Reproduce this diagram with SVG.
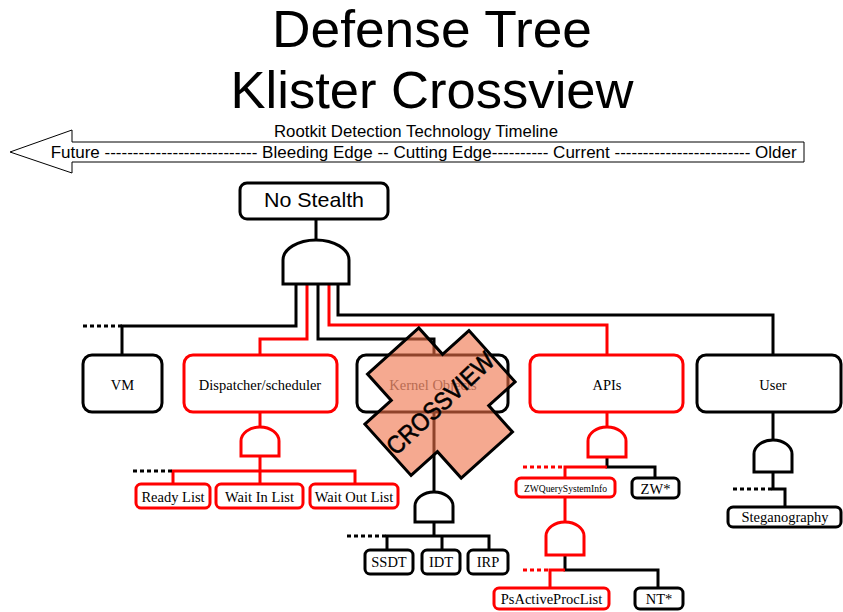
<svg xmlns="http://www.w3.org/2000/svg" width="843" height="612" viewBox="0 0 843 612">
<style>
.title{font-family:"Liberation Sans",Arial,sans-serif;font-size:52px;fill:#000;text-anchor:middle}
.tl{font-family:"Liberation Sans",Arial,sans-serif;font-size:17px;fill:#000}
.box{fill:#fff;stroke:#000;stroke-width:3}
.rbox{fill:#fff;stroke:#f00;stroke-width:3}
.lbl{font-family:"Liberation Serif","Times New Roman",serif;font-size:14.5px;fill:#000;text-anchor:middle}
.gate{fill:#fff;stroke:#000;stroke-width:3}
.rgate{fill:#fff;stroke:#f00;stroke-width:3}
.bl{fill:none;stroke:#000;stroke-width:3}
.rl{fill:none;stroke:#f00;stroke-width:3}
.bd{fill:none;stroke:#000;stroke-width:3;stroke-dasharray:4 3}
.rd{fill:none;stroke:#f00;stroke-width:3;stroke-dasharray:4 3}
</style>
<rect width="843" height="612" fill="#fff"/>
<g id="title">
<text class="title" x="432" y="47" textLength="320" lengthAdjust="spacingAndGlyphs">Defense Tree</text>
<text class="title" x="432" y="108" textLength="403" lengthAdjust="spacingAndGlyphs">Klister Crossview</text>
</g>
<g id="timeline">
<polygon points="10,152 72,130 72,142 804,142 804,162 72,162 72,173" fill="#fff" stroke="#000" stroke-width="1"/>
<text class="tl" x="416" y="136.5" text-anchor="middle" textLength="284" lengthAdjust="spacingAndGlyphs">Rootkit Detection Technology Timeline</text>
<text class="tl" x="50.7" y="157.5" textLength="746" lengthAdjust="spacingAndGlyphs">Future --------------------------- Bleeding Edge -- Cutting Edge---------- Current ------------------------ Older</text>
</g>
<g id="connectors">
<path class="bl" d="M316,219 V240"/>
<path class="bl" d="M296,284 V326 H122 V355"/>
<path class="bd" d="M122,326 H83"/>
<path class="rl" d="M307,284 V339 H260 V355"/>
<path class="bl" d="M318,284 V339 H434 V355"/>
<path class="rl" d="M329,284 V325 H607 V355"/>
<path class="bl" d="M338,284 V315 H773 V355"/>
<path class="rl" d="M260,412 V427"/>
<path class="rl" d="M260,456 V484 M173,484 V471 H355 V484"/>
<path class="bd" d="M133,471 H173"/>
<path class="bl" d="M434,412 V492"/>
<path class="bl" d="M434,522 V536 M387,550 V536 H489 V550 M442,536 V550"/>
<path class="bd" d="M347,536 H387"/>
<path class="rl" d="M607,413 V427"/>
<path class="bl" d="M607,457 V467 H655 V478"/>
<path class="rl" d="M607,467 H565 V478"/>
<path class="rd" d="M523,467 H565"/>
<path class="rl" d="M565,497 V522"/>
<path class="bl" d="M565,555 V570 H658 V588"/>
<path class="rl" d="M565,570 H550 V588"/>
<path class="rd" d="M523,570 H550"/>
<path class="bl" d="M773,412 V440"/>
<path class="bl" d="M773,472 V489 H785 V507"/>
<path class="bd" d="M733,489 H773"/>
</g>
<g id="gates">
<path id="gate-root" class="gate" d="M283,284 V260 A33,20 0 0 1 349,260 V284 Z"/>
<path id="gate-disp" class="rgate" d="M241,456 V441 A19,14 0 0 1 279,441 V456 Z"/>
<path id="gate-kernel" class="gate" d="M415,522 V506 A19,14 0 0 1 453,506 V522 Z"/>
<path id="gate-apis" class="rgate" d="M588,457 V441 A19,14 0 0 1 626,441 V457 Z"/>
<path id="gate-zwq" class="rgate" d="M546,555 V536 A19,14 0 0 1 584,536 V555 Z"/>
<path id="gate-user" class="gate" d="M754,472 V454 A19,14 0 0 1 792,454 V472 Z"/>
</g>
<g id="node-nostealth"><rect class="box" x="240" y="183" width="148" height="36" rx="7"/><text x="314" y="207" font-family="Liberation Sans, Arial, sans-serif" font-size="21" text-anchor="middle" textLength="100" lengthAdjust="spacingAndGlyphs">No Stealth</text></g>
<g id="node-vm"><rect class="box" x="83" y="355" width="79" height="57" rx="9"/><text class="lbl" x="122.5" y="390">VM</text></g>
<g id="node-dispatcher"><rect class="rbox" x="184" y="355" width="153" height="57" rx="9"/><text class="lbl" x="260" y="390">Dispatcher/scheduler</text></g>
<g id="node-kernel"><rect class="box" x="357" y="355" width="151" height="57" rx="9"/><text class="lbl" x="433" y="390" style="fill:#666">Kernel Objects</text></g>
<g id="node-apis"><rect class="rbox" x="530" y="355" width="153" height="57" rx="9"/><text class="lbl" x="607" y="390">APIs</text></g>
<g id="node-user"><rect class="box" x="697" y="355" width="144" height="57" rx="9"/><text class="lbl" x="773" y="390">User</text></g>
<g id="node-ready"><rect class="rbox" x="136" y="484" width="74" height="24" rx="5"/><text class="lbl" x="173" y="502">Ready List</text></g>
<g id="node-waitin"><rect class="rbox" x="216" y="484" width="87" height="24" rx="5"/><text class="lbl" x="259.5" y="502">Wait In List</text></g>
<g id="node-waitout"><rect class="rbox" x="310" y="484" width="88" height="24" rx="5"/><text class="lbl" x="354" y="502">Wait Out List</text></g>
<g id="node-ssdt"><rect class="box" x="365" y="550" width="48" height="24" rx="5"/><text class="lbl" x="389" y="567">SSDT</text></g>
<g id="node-idt"><rect class="box" x="422" y="550" width="38" height="24" rx="5"/><text class="lbl" x="441" y="567">IDT</text></g>
<g id="node-irp"><rect class="box" x="468" y="550" width="40" height="24" rx="5"/><text class="lbl" x="488" y="567">IRP</text></g>
<g id="node-zwquery"><rect class="rbox" x="516" y="478" width="99" height="19" rx="5"/><text class="lbl" x="565.5" y="491.5" style="font-size:9.6px">ZWQuerySystemInfo</text></g>
<g id="node-zw"><rect class="box" x="632" y="478" width="47" height="20" rx="5"/><text class="lbl" x="655.5" y="493.5">ZW*</text></g>
<g id="node-psactive"><rect class="rbox" x="494" y="588" width="115" height="21" rx="5"/><text class="lbl" x="551.5" y="603.5">PsActiveProcList</text></g>
<g id="node-nt"><rect class="box" x="635" y="588" width="48" height="21" rx="5"/><text class="lbl" x="659" y="603.5">NT*</text></g>
<g id="node-steg"><rect class="box" x="728" y="507" width="113" height="20" rx="5"/><text class="lbl" x="785" y="522">Steganography</text></g>
<g id="crossview" transform="translate(440,403)">
<polygon transform="rotate(-42)" points="70,-34.5 70,34.5 34.5,34.5 34.5,70 -34.5,70 -34.5,34.5 -70,34.5 -70,-34.5 -34.5,-34.5 -34.5,-70 34.5,-70 34.5,-34.5" fill="#EE7046" fill-opacity="0.6" stroke="none"/>
<polygon transform="rotate(-42)" points="70,-34.5 70,34.5 34.5,34.5 34.5,70 -34.5,70 -34.5,34.5 -70,34.5 -70,-34.5 -34.5,-34.5 -34.5,-70 34.5,-70 34.5,-34.5" fill="none" stroke="#000" stroke-width="3"/>
<text transform="rotate(-43)" x="0" y="9" font-family="Liberation Sans, Arial, sans-serif" font-size="25" stroke="#000" stroke-width="0.6" text-anchor="middle" textLength="137" lengthAdjust="spacingAndGlyphs">CROSSVIEW</text>
</g>
</svg>
